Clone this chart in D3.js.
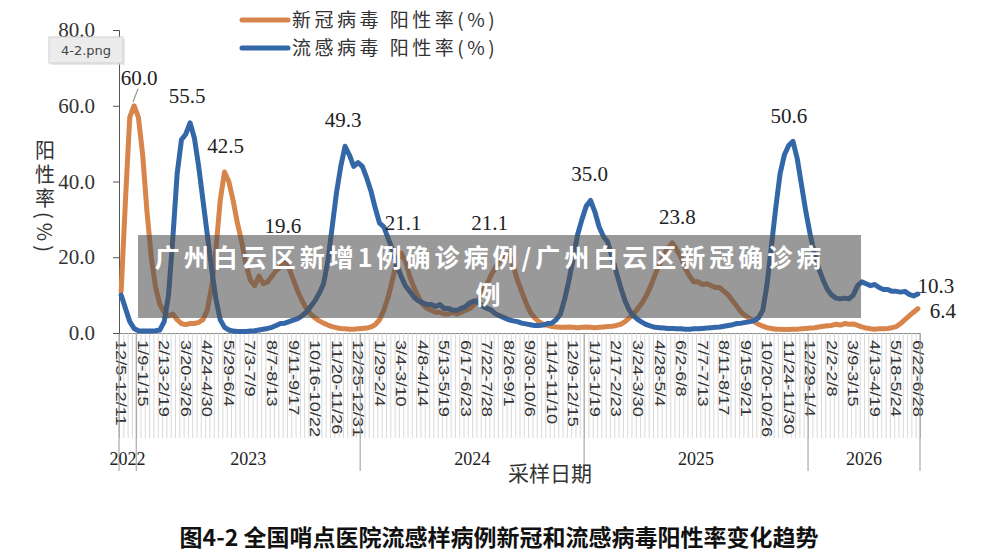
<!DOCTYPE html>
<html>
<head>
<meta charset="utf-8">
<script src="https://cdn.jsdelivr.net/npm/d3@7"></script>
<style>
  body { margin: 0; background: #fff; }
  svg { display: block; }
</style>
</head>
<body>
<svg id="chart" width="1000" height="554"></svg>
<script>
// week labels, one every 5 weeks
const weekLabels = ['12/5-12/11','1/9-1/15','2/13-2/19','3/20-3/26','4/24-4/30','5/29-6/4','7/3-7/9','8/7-8/13',
  '9/11-9/17','10/16-10/22','11/20-11/26','12/25-12/31','1/29-2/4','3/4-3/10','4/8-4/14','5/13-5/19','6/17-6/23',
  '7/22-7/28','8/26-9/1','9/30-10/6','11/4-11/10','12/9-12/15','1/13-1/19','2/17-2/23','3/24-3/30','4/28-5/4',
  '6/2-6/8','7/7-7/13','8/11-8/17','9/15-9/21','10/20-10/26','11/24-11/30','12/29-1/4','2/2-2/8','3/9-3/15',
  '4/13-4/19','5/18-5/24','6/22-6/28'];

const years = ['2022', '2023', '2024', '2025', '2026'];
const yearStart = [0, 4, 56, 108, 160, 186]; // week index where each year begins

// weekly positivity, %
const covidRate = [
  11, 35, 57, 60, 57, 47, 32, 20, 12, 7.5,
  5.5, 4.5, 5, 3.5, 2.5, 2.2, 2.5, 2.5, 2.8, 3.5,
  6, 12, 22, 35, 42.5, 40, 35, 29, 24, 18,
  14, 12.5, 15, 13, 13.5, 15, 16.5, 17.5, 19.6, 17,
  14, 11, 8.5, 6.5, 5, 4, 3.2, 2.6, 2.1, 1.7,
  1.4, 1.2, 1.1, 1.0, 1.0, 1.1, 1.2, 1.3, 1.6, 2.2,
  3.5, 6, 9.5, 14, 19, 21.1, 19, 15, 12, 9.5,
  7.5, 6.5, 6, 5.5, 5.5, 5, 5, 5.5, 5, 5.5,
  6, 6.5, 7.5, 9, 11, 13, 15.5, 17.5, 19.5, 20.5,
  21.1, 18, 14, 11, 8, 5.5, 4, 3, 2.3, 2,
  1.7, 1.6, 1.5, 1.5, 1.6, 1.5, 1.4, 1.5, 1.6, 1.5,
  1.4, 1.5, 1.6, 1.7, 1.8, 2.0, 2.3, 3, 4, 5,
  6.5, 8, 10, 12.5, 15.5, 18, 20.5, 22.5, 23.8, 22,
  20, 17, 15, 13.5, 13.5, 12.8, 13, 12.5, 12, 12,
  11, 10, 8.5, 7, 5.5, 4.5, 3.8, 3, 2.3, 1.8,
  1.4, 1.2, 1.0, 1.0, 0.9, 0.9, 1.0, 1.0, 1.1, 1.2,
  1.3, 1.4, 1.6, 1.8, 1.9, 2.0, 2.3, 2.1, 2.5, 2.3,
  2.4, 2.0, 1.6, 1.3, 1.1, 1.0, 1.1, 1.1, 1.2, 1.4,
  1.7, 2.5, 3.5, 4.5, 5.5, 6.4
];

const fluRate = [
  10, 6.5, 3, 1.2, 0.6, 0.5, 0.5, 0.5, 0.6, 0.8,
  3, 10, 25, 42, 51, 52.5, 55.5, 51.5, 44, 35,
  26, 17, 9, 3.5, 1.5, 0.8, 0.5, 0.4, 0.4, 0.4,
  0.5, 0.6, 0.8, 1.0, 1.2, 1.5, 2.0, 2.5, 2.6, 3.0,
  3.4, 3.8, 4.5, 5.5, 7, 8.5, 10.5, 13, 19, 28,
  37, 44, 49.3, 47, 44, 45, 44, 41, 37.5, 33,
  29, 28, 25, 22, 18, 15, 12.5, 11, 9.5, 8.5,
  8, 7.5, 7.5, 7, 7.5, 6.5, 6.5, 6, 6, 6.5,
  7, 8, 8.5, 8, 7, 6.5, 6, 5, 4.5, 4,
  3.5, 3.2, 3, 2.6, 2.4, 2.2, 2.0, 2.0, 2.1, 2.5,
  2.6, 3.5, 5, 9, 14, 20, 26, 30, 33.5, 35,
  32, 28, 25.5, 24, 20, 16, 12, 8.5, 6, 4.5,
  3.5, 2.8, 2.2, 1.8, 1.5, 1.4, 1.3, 1.2, 1.2, 1.1,
  1.1, 1.0, 1.0, 1.1, 1.1, 1.2, 1.3, 1.4, 1.5, 1.6,
  1.8, 2.0, 2.2, 2.5, 2.6, 2.8, 3.0, 3.3, 4, 6,
  13, 23, 33, 42, 47, 49.5, 50.6, 46, 39, 32,
  26, 21, 17, 14, 11.5, 10, 9.2, 9, 9.2, 9,
  10, 12.5, 13.5, 13, 12.5, 12.8, 12, 11.5, 11.5, 11,
  11, 10.8, 11, 10.2, 9.8, 10.3
];

const yTicks = [0, 20, 40, 60, 80];

// peak annotations: which series, which week
const noteSeries = ['covid', 'flu', 'covid', 'covid', 'flu', 'covid', 'covid', 'flu', 'covid', 'flu', 'flu', 'covid'];
const noteWeek = [3, 16, 24, 38, 52, 65, 90, 109, 128, 156, 185, 185];
const noteDx = [5, -3, 1, -2, -2, 2, -19, -1, 5, -4, 18, 25];
const noteDy = [-28, -27, -26, -33, -27, -30, -30, -27, -26, -26, -8, 2];

const seriesNames = ['新冠病毒 阳性率(%)', '流感病毒 阳性率(%)'];
const colors = ['#d8854c', '#3467a8'];

const svg = d3.select('#chart');
const margin = { left: 119, right: 80, top: 30, bottom: 221 };
const W = 1000, H = 554;
const nWeeks = covidRate.length;

let x = d3.scaleLinear().domain([0, nWeeks]).range([margin.left, W - margin.right]);
let y = d3.scaleLinear().domain([0, 80]).range([H - margin.bottom, margin.top]);
const y0 = y(0);

// --- weekly tick comb under the axis
svg.append('g')
  .attr('transform', `translate(0,${y0})`)
  .call(d3.axisBottom(x).tickValues(d3.range(0, nWeeks + 1)).tickSize(105).tickFormat(''))
  .call(g => g.select('.domain').attr('stroke', '#888'))
  .call(g => g.selectAll('.tick line').attr('stroke', '#cfcfcf').attr('stroke-width', 0.8));

// rotated week labels
svg.append('g')
  .selectAll('text')
  .data(weekLabels)
  .join('text')
  .attr('transform', (d, i) => `translate(${x(i * 5 + 0.5)},${y0 + 7}) rotate(90) scale(1.3,1)`)
  .attr('dy', '0.35em')
  .attr('font-family', 'Liberation Sans, Arial, sans-serif')
  .attr('font-size', 14)
  .attr('fill', '#333')
  .text(d => d);

// year separators and labels
svg.append('g')
  .selectAll('line')
  .data(yearStart)
  .join('line')
  .attr('x1', d => x(d)).attr('x2', d => x(d))
  .attr('y1', y0).attr('y2', y0 + 138)
  .attr('stroke', '#999').attr('stroke-width', 1);

svg.append('g')
  .selectAll('text')
  .data(years)
  .join('text')
  .attr('x', (d, i) => (x(yearStart[i]) + x(yearStart[i + 1])) / 2)
  .attr('y', y0 + 132)
  .attr('text-anchor', 'middle')
  .attr('font-family', 'Liberation Serif, serif')
  .attr('font-size', 18)
  .attr('fill', '#222')
  .text(d => d);

// --- y axis
svg.append('g')
  .attr('transform', `translate(${margin.left},0)`)
  .call(d3.axisLeft(y).tickValues(yTicks).tickFormat(d3.format('.1f')).tickSize(6).tickPadding(18))
  .call(g => g.select('.domain').attr('stroke', '#555'))
  .call(g => g.selectAll('.tick line').attr('stroke', '#555'))
  .call(g => g.selectAll('.tick text')
    .attr('font-family', 'Liberation Serif, serif')
    .attr('font-size', 21)
    .attr('fill', '#333'));

// y axis title, written vertically (CJK upright, "(%)" sideways)
svg.append('text')
  .attr('x', 45).attr('y', 140)
  .style('writing-mode', 'vertical-rl')
  .style('letter-spacing', '4px')
  .attr('font-family', 'Noto Sans CJK SC, sans-serif')
  .attr('font-size', 20)
  .attr('fill', '#333')
  .text('阳性率(%)');

// --- lines
const line = d3.line()
  .x((d, i) => x(i + 0.5))
  .y(d => y(d));

[covidRate, fluRate].forEach((data, k) => {
  svg.append('path')
    .datum(data)
    .attr('fill', 'none')
    .attr('stroke', colors[k])
    .attr('stroke-width', 5)
    .attr('stroke-linejoin', 'round')
    .attr('stroke-linecap', 'round')
    .attr('d', line);
});

// --- peak labels
const seriesData = { covid: covidRate, flu: fluRate };
noteWeek.forEach((w, k) => {
  const v = seriesData[noteSeries[k]][w];
  svg.append('text')
    .attr('x', x(w + 0.5) + noteDx[k])
    .attr('y', y(v) + noteDy[k])
    .attr('dy', '0.35em')
    .attr('text-anchor', 'middle')
    .attr('font-family', 'Liberation Serif, serif')
    .attr('font-size', 21)
    .attr('fill', '#222')
    .text(v.toFixed(1));
});
// leader for the first peak
svg.append('line')
  .attr('x1', x(3.5) - 1).attr('y1', y(covidRate[3]) - 4)
  .attr('x2', x(3.5) + 4).attr('y2', y(covidRate[3]) - 17)
  .attr('stroke', '#8fa28f').attr('stroke-width', 1.2);

// --- legend
const legend = svg.append('g');
seriesNames.forEach((name, i) => {
  const ly = 20 + i * 28;
  legend.append('line')
    .attr('x1', 242).attr('x2', 288).attr('y1', ly).attr('y2', ly)
    .attr('stroke', colors[i]).attr('stroke-width', 5).attr('stroke-linecap', 'round');
  legend.append('text')
    .attr('x', 292).attr('y', ly).attr('dy', '0.35em')
    .attr('font-family', 'Noto Sans CJK SC, sans-serif')
    .attr('font-size', 19)
    .attr('letter-spacing', 3.5)
    .attr('fill', '#333')
    .text(name);
});

// --- x axis title and caption
svg.append('text')
  .attr('x', 550).attr('y', 474).attr('dy', '0.35em')
  .attr('text-anchor', 'middle')
  .attr('font-family', 'Noto Sans CJK SC, sans-serif')
  .attr('font-size', 21).attr('fill', '#333')
  .text('采样日期');

svg.append('text')
  .attr('x', 499).attr('y', 538).attr('dy', '0.35em')
  .attr('text-anchor', 'middle')
  .attr('font-family', 'Noto Sans CJK SC, sans-serif')
  .attr('font-size', 23).attr('font-weight', 'bold').attr('fill', '#111')
  .text('图4-2 全国哨点医院流感样病例新冠和流感病毒阳性率变化趋势');

// --- filename tag
const tag = svg.append('g');
tag.append('rect').attr('x', 51).attr('y', 39).attr('width', 74).attr('height', 26)
  .attr('fill', '#d8d8d8').attr('opacity', 0.6);
tag.append('rect').attr('x', 49).attr('y', 37).attr('width', 74).attr('height', 26)
  .attr('fill', '#ececec').attr('stroke', '#d0d0d0');
tag.append('text').attr('x', 86).attr('y', 50).attr('dy', '0.35em')
  .attr('text-anchor', 'middle')
  .attr('font-family', 'DejaVu Sans, sans-serif').attr('font-size', 13)
  .attr('fill', '#444').text('4-2.png');

// --- headline banner
const banner = svg.append('g');
banner.append('rect').attr('x', 138).attr('y', 235).attr('width', 723).attr('height', 83)
  .attr('fill', 'rgb(80,80,80)').attr('fill-opacity', 0.58);
['广州白云区新增1例确诊病例/广州白云区新冠确诊病', '例'].forEach((t, i) => {
  banner.append('text')
    .attr('x', 490).attr('y', 267 + i * 37)
    .attr('text-anchor', 'middle')
    .attr('font-family', 'Noto Sans CJK SC, sans-serif')
    .attr('font-size', 25).attr('font-weight', 'bold')
    .attr('letter-spacing', 4)
    .attr('fill', '#fff')
    .text(t);
});
</script>
</body>
</html>
